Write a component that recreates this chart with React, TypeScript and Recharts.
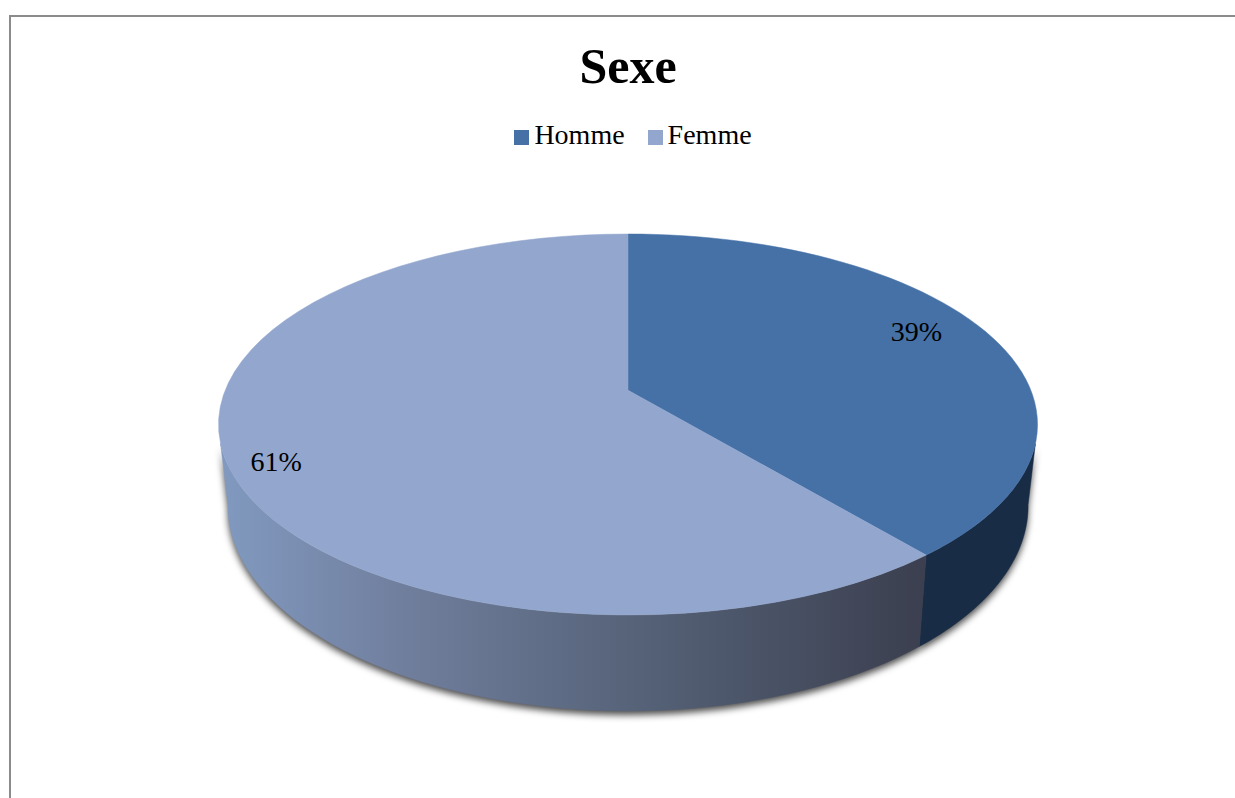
import React from 'react';
import { PieChart, Pie, Legend } from 'recharts';

const categories = ['Homme', 'Femme'];
const shares = [39, 61];
const topColors = ['#4571a7', '#93a7ce'];
const wallColors = ['#192c45', 'url(#femmeWall)'];
const labelRadius = [0.83, 0.893];
const labelTilt = 4;

const FONT = '"Liberation Serif", serif';

// 3D look: the disc is tilted, so its centre sits above the middle of the ellipse
const TILT = -0.18;
const RY_RATIO = 190.5 / 409.5;
const DEPTH = 81.5;

const topTable = categories.map((name, i) => ({ name, value: shares[i], fill: topColors[i] }));
const wallTable = categories.map((name, i) => ({ name, value: shares[i], fill: wallColors[i] }));

const project = (theta: number, r: number) => {
  const t = (theta * Math.PI) / 180;
  const u = Math.sin(t) * r;
  const v = -Math.cos(t) * r;
  const d = 1 + TILT * v;
  return [(u * Math.sqrt(1 - TILT * TILT)) / d, (v + TILT) / d];
};

const arc = (from: number, to: number, cx: number, cy: number, rx: number, ry: number) => {
  const pts: string[] = [];
  for (let i = 0; i <= 60; i++) {
    const [x, y] = project(from + ((to - from) * i) / 60, 1);
    pts.push(`${(cx + x * rx).toFixed(2)},${(cy + y * ry).toFixed(2)}`);
  }
  return pts;
};

const TopSlice = (props: any) => {
  const { cx, cy, outerRadius, startAngle, endAngle, fill } = props;
  const ry = outerRadius * RY_RATIO;
  const pts = arc(90 - startAngle, 90 - endAngle, cx, cy, outerRadius, ry);
  return <path d={`M${cx},${cy + TILT * ry} L${pts.join(' L')} Z`} fill={fill} stroke={fill} strokeWidth={0.5} />;
};

const wallPath = (props: any) => {
  const { cx, cy, outerRadius, startAngle, endAngle } = props;
  const ry = outerRadius * RY_RATIO;
  const a = 90 - startAngle;
  const b = 90 - endAngle;
  const top = arc(Math.max(a, 106), Math.min(b, 254), cx, cy, outerRadius, ry);
  const bottom = arc(Math.max(a, 100), Math.min(b, 260), cx, cy + DEPTH, outerRadius * 0.977, ry * 1.076);
  return `M${top.join(' L')} L${bottom.reverse().join(' L')} Z`;
};

const WallSlice = (props: any) => <path d={wallPath(props)} fill={props.fill} stroke={props.fill} strokeWidth={0.5} />;

const ShadowSlice = (props: any) => (
  <path d={wallPath(props)} fill="#000" fillOpacity={0.7} filter="url(#pieShadow)" transform="translate(0,4)" />
);

const renderLabel = (props: any) => {
  const { cx, cy, outerRadius, midAngle, value, index } = props;
  const [x, y] = project(90 - midAngle - labelTilt, labelRadius[index]);
  return (
    <text
      x={cx + x * outerRadius}
      y={cy + y * outerRadius * RY_RATIO}
      textAnchor="middle"
      dominantBaseline="central"
      fontFamily={FONT}
      fontSize={28}
      fill="#000"
    >
      {`${value}%`}
    </text>
  );
};

export default function App() {
  const pieProps = {
    dataKey: 'value',
    nameKey: 'name',
    cx: 628,
    cy: 390.5, // the legend pushes the plot area down by 34px
    outerRadius: 409.5,
    startAngle: 90,
    endAngle: -270,
    isAnimationActive: false,
  };
  return (
    <div style={{ position: 'absolute', left: 0, top: 0, width: 1235, height: 798, overflow: 'hidden', background: '#fff' }}>
      <div
        style={{
          position: 'absolute',
          left: 9,
          top: 15,
          width: 1400,
          height: 1000,
          borderLeft: '2.5px solid #8b8b8b',
          borderTop: '2.5px solid #8b8b8b',
        }}
      />
      <div style={{ position: 'absolute', left: 0, top: 0 }}>
        <PieChart width={1235} height={798} margin={{ top: 0, right: 0, bottom: 0, left: 0 }}>
          <defs>
            <linearGradient id="femmeWall" gradientUnits="userSpaceOnUse" x1="225" y1="0" x2="925" y2="0">
              <stop offset="0%" stopColor="#8199bf" />
              <stop offset="25%" stopColor="#717f9e" />
              <stop offset="58%" stopColor="#566379" />
              <stop offset="100%" stopColor="#3b3f4f" />
            </linearGradient>
            <filter id="pieShadow" x="-5%" y="-5%" width="110%" height="115%">
              <feGaussianBlur stdDeviation="3.5" />
            </filter>
          </defs>
          <text x={628} y={83} textAnchor="middle" fontFamily={FONT} fontWeight="bold" fontSize={50} fill="#000">
            Sexe
          </text>
          <Legend
            verticalAlign="top"
            align="center"
            iconType="square"
            iconSize={15}
            itemSorter={null}
            wrapperStyle={{ top: 118, left: 27, fontFamily: FONT, fontSize: 28, lineHeight: '34px' }}
            formatter={(value: string) => <span style={{ color: '#000', marginLeft: 1, marginRight: 13 }}>{value}</span>}
          />
          <Pie {...pieProps} data={wallTable} legendType="none" shape={ShadowSlice} stroke="none" />
          <Pie {...pieProps} data={wallTable} legendType="none" shape={WallSlice} stroke="none" />
          <Pie {...pieProps} data={topTable} shape={TopSlice} label={renderLabel} labelLine={false} stroke="none" />
        </PieChart>
      </div>
    </div>
  );
}
